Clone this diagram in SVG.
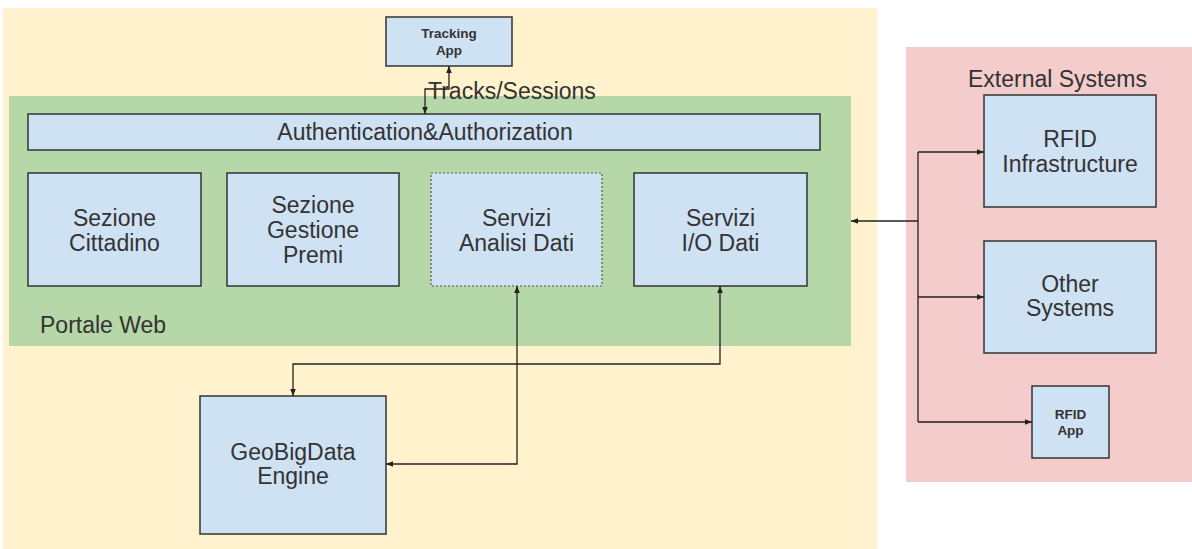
<svg xmlns="http://www.w3.org/2000/svg" width="1192" height="549" viewBox="0 0 1192 549">
<style>
.box{fill:#cfe2f3;stroke:#333;stroke-width:1.5}
.dash{fill:#cfe2f3;stroke:#555;stroke-width:1.2;stroke-dasharray:2 2}
.t{font-family:"Liberation Sans",Arial,sans-serif;font-size:23px;fill:#333;text-anchor:middle}
.tl{font-family:"Liberation Sans",Arial,sans-serif;font-size:23px;fill:#333}
.tb{font-family:"Liberation Sans",Arial,sans-serif;font-size:13.5px;font-weight:bold;fill:#333;text-anchor:middle}
.c{fill:none;stroke:#222;stroke-width:1.3}
</style>
<defs>
<marker id="ah" viewBox="0 0 10 10" refX="10" refY="5" markerWidth="7" markerHeight="7" markerUnits="userSpaceOnUse" orient="auto-start-reverse">
<path d="M0,1 L10,5 L0,9 z" fill="#222"/>
</marker>
</defs>
<rect width="1192" height="549" fill="#ffffff"/>
<g id="area-main">
<rect x="3" y="8" width="874" height="541" fill="#fff2cc"/>
</g>
<g id="area-external">
<rect x="906" y="47" width="286" height="435" fill="#f4cccc"/>
<text class="tl" x="968" y="87">External Systems</text>
</g>
<g id="area-portale">
<rect x="9" y="96" width="842" height="250" fill="#b6d7a8"/>
<text class="tl" x="40" y="333">Portale Web</text>
</g>
<g id="tracking-app">
<rect class="box" x="386" y="17" width="126" height="49"/>
<text class="tb" x="449" y="38">Tracking</text>
<text class="tb" x="449" y="55">App</text>
</g>
<g id="auth">
<rect class="box" x="28" y="114" width="792" height="36"/>
<text class="t" x="425" y="140">Authentication&amp;Authorization</text>
</g>
<g id="sezione-cittadino">
<rect class="box" x="28" y="173" width="173" height="113"/>
<text class="t" x="114.5" y="226">Sezione</text>
<text class="t" x="114.5" y="251">Cittadino</text>
</g>
<g id="sezione-gestione-premi">
<rect class="box" x="227" y="173" width="172" height="113"/>
<text class="t" x="313" y="213">Sezione</text>
<text class="t" x="313" y="238">Gestione</text>
<text class="t" x="313" y="263">Premi</text>
</g>
<g id="servizi-analisi-dati">
<rect class="dash" x="431" y="173" width="171" height="113"/>
<text class="t" x="516.5" y="226">Servizi</text>
<text class="t" x="516.5" y="251">Analisi Dati</text>
</g>
<g id="servizi-io-dati">
<rect class="box" x="634" y="173" width="173" height="113"/>
<text class="t" x="720.5" y="226">Servizi</text>
<text class="t" x="720.5" y="251">I/O Dati</text>
</g>
<g id="geobigdata-engine">
<rect class="box" x="200" y="396" width="186" height="138"/>
<text class="t" x="293" y="460">GeoBigData</text>
<text class="t" x="293" y="484">Engine</text>
</g>
<g id="rfid-infrastructure">
<rect class="box" x="984" y="95" width="172" height="112"/>
<text class="t" x="1070" y="147">RFID</text>
<text class="t" x="1070" y="172">Infrastructure</text>
</g>
<g id="other-systems">
<rect class="box" x="984" y="241" width="172" height="112"/>
<text class="t" x="1070" y="292">Other</text>
<text class="t" x="1070" y="316">Systems</text>
</g>
<g id="rfid-app">
<rect class="box" x="1032" y="386" width="77" height="72"/>
<text class="tb" x="1070.5" y="419">RFID</text>
<text class="tb" x="1070.5" y="435">App</text>
</g>
<g id="connectors">
<path class="c" d="M449,66 V89 H425 V114" marker-start="url(#ah)" marker-end="url(#ah)"/>
<text class="tl" x="428" y="99">Tracks/Sessions</text>
<path class="c" d="M517,286 V464 H386" marker-start="url(#ah)" marker-end="url(#ah)"/>
<path class="c" d="M720,286 V364 H293 V396" marker-start="url(#ah)" marker-end="url(#ah)"/>
<path class="c" d="M918,221 H851" marker-end="url(#ah)"/>
<path class="c" d="M918,152 V422"/>
<path class="c" d="M918,152 H984" marker-end="url(#ah)"/>
<path class="c" d="M918,297 H984" marker-end="url(#ah)"/>
<path class="c" d="M918,422 H1032" marker-end="url(#ah)"/>
</g>
</svg>
